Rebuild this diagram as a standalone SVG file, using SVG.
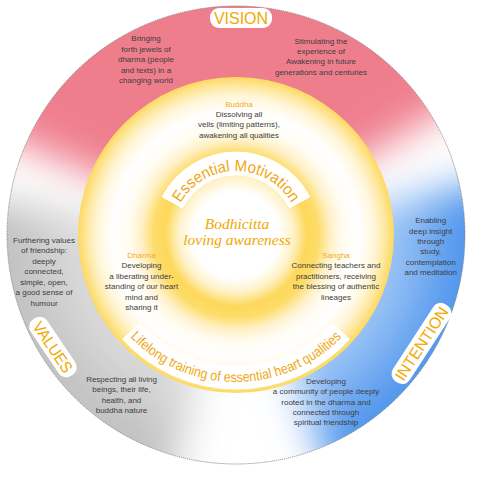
<svg xmlns="http://www.w3.org/2000/svg" width="480" height="478" viewBox="0 0 480 478">
<style>
.t{font-family:"Liberation Sans",Arial,sans-serif;font-size:8px;fill:#3d3d3d;text-anchor:middle}
.o{font-family:"Liberation Sans",Arial,sans-serif;font-size:8px;fill:#f3aa22;text-anchor:middle}
.big{font-family:"Liberation Sans",Arial,sans-serif;font-size:16px;fill:#f2a900;text-anchor:middle}
.arc{font-family:"Liberation Sans",Arial,sans-serif;fill:#f0a814;text-anchor:middle}
.pill{fill:#ffffff}
</style>
<defs>
<clipPath id="ringClip"><circle cx="236" cy="235" r="229"/></clipPath>
<filter id="soft" x="-100%" y="-100%" width="300%" height="300%"><feGaussianBlur stdDeviation="20"/></filter>
<radialGradient id="blueG" gradientUnits="userSpaceOnUse" cx="236" cy="235" r="229">
<stop offset="0.66" stop-color="#a2c9f7"/>
<stop offset="1" stop-color="#4b93ec"/>
</radialGradient>
<radialGradient id="greyG" gradientUnits="userSpaceOnUse" cx="236" cy="235" r="229">
<stop offset="0.66" stop-color="#dddddd"/>
<stop offset="1" stop-color="#c0c0c0"/>
</radialGradient>
<radialGradient id="core" gradientUnits="userSpaceOnUse" cx="236" cy="235" r="158">
<stop offset="0" stop-color="#ffffff"/>
<stop offset="0.27" stop-color="#ffffff"/>
<stop offset="0.36" stop-color="#fff3cc"/>
<stop offset="0.45" stop-color="#fdd85a"/>
<stop offset="0.52" stop-color="#fddc6a"/>
<stop offset="0.60" stop-color="#fff1c8"/>
<stop offset="0.68" stop-color="#fffcf2"/>
<stop offset="0.78" stop-color="#ffffff"/>
<stop offset="0.88" stop-color="#fff6d8"/>
<stop offset="0.95" stop-color="#fee69a"/>
<stop offset="1" stop-color="#fdd960"/>
</radialGradient>
<path id="emPath" d="M172.24,229.42 A64,64 0 0 1 299.76,229.42"/>
<path id="llPath" d="M89.56,247.81 A147,147 0 0 0 382.44,247.81"/>
</defs>

<g id="outer-ring">
<g clip-path="url(#ringClip)">
<circle cx="236" cy="235" r="229" fill="#ffffff"/>
<path d="M236,235 L-132,79 L-132,-300 L579,-300 L579,29 Z" fill="#ef7e8d" filter="url(#soft)"/>
<path d="M236,235 L627,152 L700,700 L386,606 Z" fill="url(#blueG)" filter="url(#soft)"/>
<path d="M236,235 L132,621 L-300,700 L-160,179 Z" fill="url(#greyG)" filter="url(#soft)"/>
</g>
<circle cx="236" cy="235" r="229" fill="none" stroke="#7a7a7a" stroke-width="0.8" stroke-dasharray="1.2 0.8"/>
</g>

<g id="core-disk">
<circle cx="236" cy="235" r="158" fill="url(#core)"/>
</g>

<g id="vision">
<rect class="pill" x="210" y="8" width="62" height="20" rx="9"/>
<text class="big" x="241" y="24" font-size="17">VISION</text>
</g>

<g id="values">
<g transform="translate(53,347) rotate(56)">
<rect class="pill" x="-34" y="-10" width="68" height="20" rx="9"/>
<text class="big" x="0" y="5.8" textLength="58" lengthAdjust="spacingAndGlyphs">VALUES</text>
</g>
</g>

<g id="intention">
<g transform="translate(421.5,343.5) rotate(-57)">
<rect class="pill" x="-46" y="-10" width="92" height="20" rx="9"/>
<text class="big" x="0" y="5.8" textLength="84" lengthAdjust="spacingAndGlyphs">INTENTION</text>
</g>
</g>

<g id="vision-left">
<text class="t" x="146" y="41.3">Bringing</text>
<text class="t" x="146" y="51.7">forth jewels of</text>
<text class="t" x="146" y="62.1">dharma (people</text>
<text class="t" x="146" y="72.5">and texts)  in a</text>
<text class="t" x="146" y="82.9">changing world</text>
</g>

<g id="vision-right">
<text class="t" x="321" y="43.7">Stimulating the</text>
<text class="t" x="321" y="54">experience of</text>
<text class="t" x="321" y="64.4">Awakening in future</text>
<text class="t" x="321" y="74.7">generations and centuries</text>
</g>

<g id="intention-top">
<text class="t" x="430.7" y="223">Enabling</text>
<text class="t" x="430.7" y="233.5">deep insight</text>
<text class="t" x="430.7" y="244">through</text>
<text class="t" x="430.7" y="254.4">study,</text>
<text class="t" x="430.7" y="264.9">contemplation</text>
<text class="t" x="430.7" y="275.3">and meditation</text>
</g>

<g id="intention-bottom">
<text class="t" x="326" y="383.7">Developing</text>
<text class="t" x="326" y="394.1">a community of people deeply</text>
<text class="t" x="326" y="404.5">rooted in the dharma and</text>
<text class="t" x="326" y="414.9">connected through</text>
<text class="t" x="326" y="425.3">spiritual friendship</text>
</g>

<g id="values-bottom">
<text class="t" x="121.5" y="381.7">Respecting all living</text>
<text class="t" x="121.5" y="392.2">beings, their life,</text>
<text class="t" x="121.5" y="402.7">health, and</text>
<text class="t" x="121.5" y="413.2">buddha nature</text>
</g>

<g id="values-top">
<text class="t" x="44" y="242.5">Furthering values</text>
<text class="t" x="44" y="253">of friendship:</text>
<text class="t" x="44" y="263.6">deeply</text>
<text class="t" x="44" y="274.1">connected,</text>
<text class="t" x="44" y="284.7">simple, open,</text>
<text class="t" x="44" y="295.2">a good sense of</text>
<text class="t" x="44" y="305.8">humour</text>
</g>

<g id="buddha">
<text class="o" x="239" y="106.5">Buddha</text>
<text class="t" x="239" y="116.8">Dissolving all</text>
<text class="t" x="239" y="127.2">veils (limiting patterns),</text>
<text class="t" x="239" y="137.5">awakening all qualities</text>
</g>

<g id="dharma">
<text class="o" x="141.5" y="258">Dharma</text>
<text class="t" x="141.5" y="268.4">Developing</text>
<text class="t" x="141.5" y="278.8">a liberating under-</text>
<text class="t" x="141.5" y="289.2">standing of our heart</text>
<text class="t" x="141.5" y="299.6">mind and</text>
<text class="t" x="141.5" y="310">sharing it</text>
</g>

<g id="sangha">
<text class="o" x="336" y="258">Sangha</text>
<text class="t" x="336" y="268.4">Connecting teachers and</text>
<text class="t" x="336" y="278.8">practitioners, receiving</text>
<text class="t" x="336" y="289.2">the blessing of authentic</text>
<text class="t" x="336" y="299.6">lineages</text>
</g>

<g id="essential-motivation">
<path class="pill" d="M163.6,196.5 A82,82 0 0 1 308.4,196.5 L289.86,206.36 A61,61 0 0 0 182.14,206.36 Z" stroke="#ffffff" stroke-width="3" stroke-linejoin="round"/>
<text class="arc" font-size="16"><textPath href="#emPath" startOffset="50%" textLength="134" lengthAdjust="spacingAndGlyphs">Essential Motivation</textPath></text>
</g>

<g id="lifelong-training">
<path class="pill" d="M124.1,339.3 A153,153 0 0 0 347.9,339.3 L332.5,325 A132,132 0 0 1 139.5,325 Z" stroke="#ffffff" stroke-width="3" stroke-linejoin="round"/>
<text class="arc" font-size="14"><textPath href="#llPath" startOffset="50%" textLength="236" lengthAdjust="spacingAndGlyphs">Lifelong training of essential heart qualities</textPath></text>
</g>

<g id="bodhicitta">
<text x="237" y="229" font-family="'Liberation Serif',serif" font-style="italic" font-size="15.5" fill="#f0a800" text-anchor="middle">Bodhicitta</text>
<text x="237" y="245" font-family="'Liberation Serif',serif" font-style="italic" font-size="15.5" fill="#f0a800" text-anchor="middle">loving awareness</text>
</g>
</svg>
